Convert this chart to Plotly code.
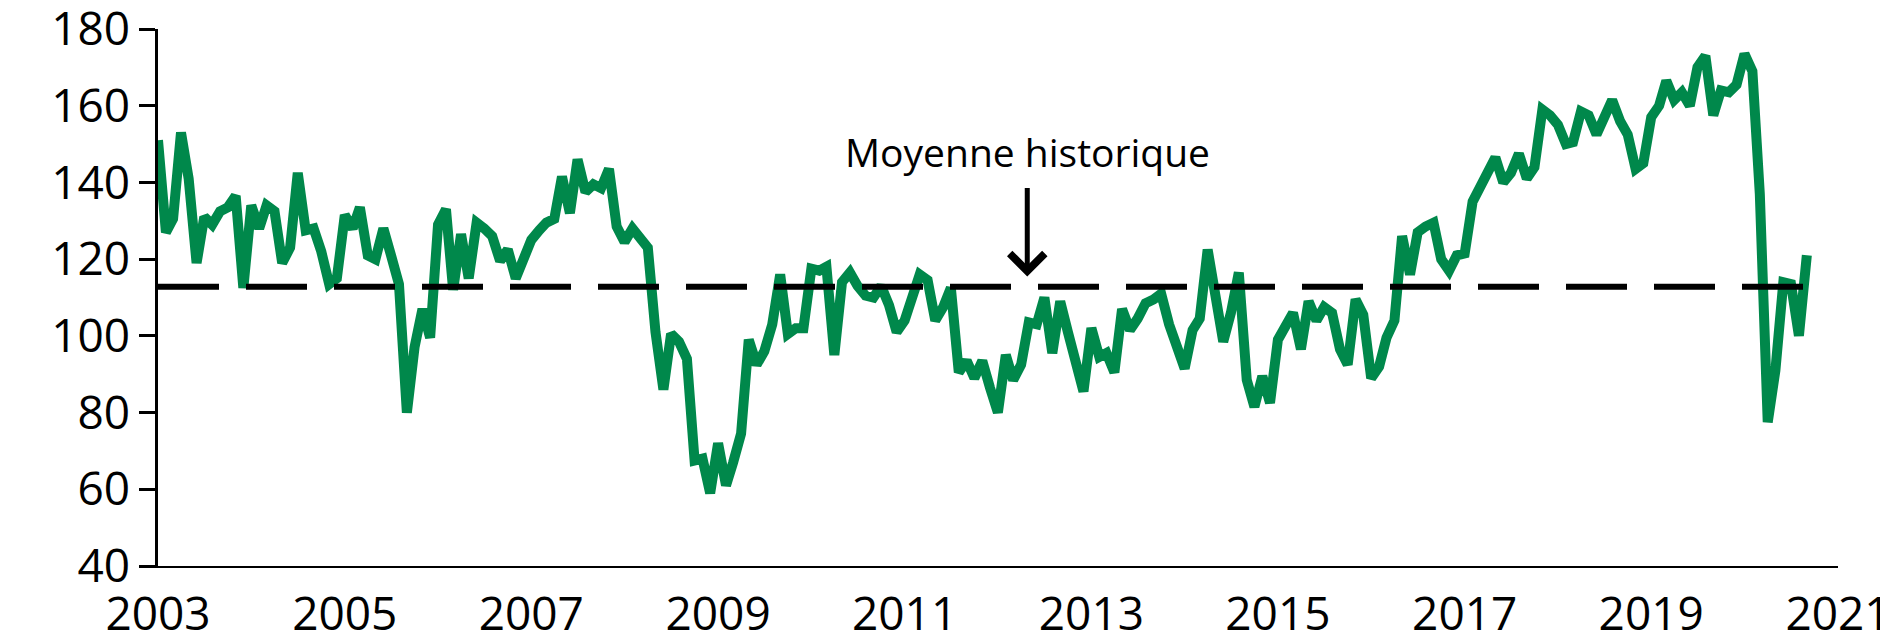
import pandas as pd
import plotly.graph_objects as go

# monthly index values, Jan 2003 -> Sep 2020
values_2003 = [151, 127, 130.5, 153, 141, 119, 131, 129, 132.5, 133.5, 136.5, 112.5]
values_2004 = [134, 128, 134, 132.5, 119, 123, 142.5, 127.5, 128, 122, 113.5, 115]
values_2005 = [131.5, 128, 133.5, 121, 120, 128, 121, 113.5, 80, 97, 107, 99.5]
values_2006 = [129, 133, 112, 126.5, 115, 129.5, 128, 126, 119.5, 122.5, 115, 120.5]
values_2007 = [125, 127.5, 129.5, 130.5, 141.5, 132, 146, 137.5, 139.5, 138.5, 143.5, 128.5]
values_2008 = [124.5, 128, 125, 123, 101, 86, 100.5, 98.5, 94, 67.5, 68, 59]
values_2009 = [72, 61, 67, 74.5, 99, 92.5, 96, 103, 116, 100.5, 102, 102]
values_2010 = [117.5, 117, 118, 95, 114, 116.5, 113, 110.5, 110, 113, 108, 101]
values_2011 = [104, 110, 116, 114.5, 104, 107.5, 112.5, 90.5, 93.5, 89, 93.5, 86.5]
values_2012 = [80, 95, 88.5, 92.5, 103.5, 103, 110, 95.5, 109, 101, 92, 85.5]
values_2013 = [102, 94.5, 95.5, 90.5, 107, 101.5, 104.5, 108.5, 109.5, 111, 103, 96.5]
values_2014 = [91.5, 101.5, 104.5, 122.5, 111, 98.5, 106, 116.5, 88.5, 81.5, 89.5, 82.5]
values_2015 = [99, 102.5, 106, 96.5, 109, 104, 107.5, 106, 96.5, 92.5, 109.5, 105.5]
values_2016 = [89, 92, 99.5, 104, 126, 116, 127, 128.5, 129.5, 120, 117, 121]
values_2017 = [121.5, 135, 138.5, 141.5, 146.5, 140, 142.5, 147.5, 141, 144, 159, 157.5]
values_2018 = [155, 150, 150.5, 158.5, 157.5, 152.5, 156.5, 161.5, 156, 152.5, 143.5, 145]
values_2019 = [157, 160, 166.5, 161.5, 163.5, 160, 170, 173, 157.5, 164, 163.5, 165.5]
values_2020 = [173.5, 169, 137, 77.5, 91, 114, 113.5, 100, 121]

historical_mean = 112.8
year_ticks = ["2003", "2005", "2007", "2009", "2011", "2013", "2015", "2017", "2019", "2021"]

values = (values_2003 + values_2004 + values_2005 + values_2006 + values_2007
          + values_2008 + values_2009 + values_2010 + values_2011 + values_2012
          + values_2013 + values_2014 + values_2015 + values_2016 + values_2017
          + values_2018 + values_2019 + values_2020)
dates = pd.date_range("2003-01-01", periods=len(values), freq="MS")

fig = go.Figure()

fig.add_trace(go.Scatter(
    x=dates, y=values, mode="lines",
    line=dict(color="#00884B", width=10),
    hoverinfo="skip", showlegend=False,
))

# dashed historical average
fig.add_trace(go.Scatter(
    x=dates, y=[historical_mean] * len(dates), mode="lines",
    line=dict(color="black", width=6, dash="61px,27px"),
    hoverinfo="skip", showlegend=False,
))

fig.add_annotation(
    x="2012-04-25", y=148, text="Moyenne historique", showarrow=False,
    font=dict(size=39, color="black"),
)
fig.add_annotation(
    x="2012-04-25", y=115.5, text="", showarrow=True,
    ax=0, ay=-90, arrowhead=4, arrowsize=1.35, arrowwidth=5, arrowcolor="black",
)

fig.update_xaxes(
    type="date",
    range=["2003-01-01", "2021-01-01"],
    tickmode="array",
    tickvals=[y + "-01-01" for y in year_ticks],
    ticktext=year_ticks,
    showgrid=False, zeroline=False,
    showline=True, linecolor="black", linewidth=2,
    ticks="", ticklabelstandoff=7,
    ticklabeloverflow="allow", automargin=False,
)
fig.update_yaxes(
    range=[40, 180], dtick=20, tick0=40,
    showgrid=False, zeroline=False,
    showline=True, linecolor="black", linewidth=2.5,
    ticks="outside", ticklen=16, tickwidth=2.5, tickcolor="black",
    ticklabeloverflow="allow", automargin=False,
)

fig.update_layout(
    width=1888, height=641,
    margin=dict(l=150, r=58, t=21, b=83),
    plot_bgcolor="white", paper_bgcolor="white",
    font=dict(family="Open Sans", size=46, color="black"),
)

fig.write_html("out.html")
